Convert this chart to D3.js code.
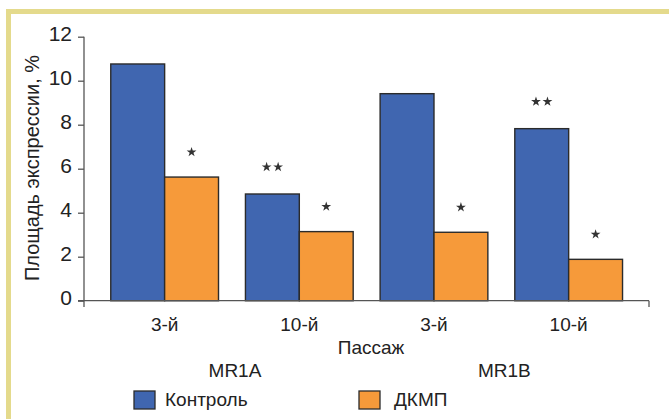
<!DOCTYPE html>
<html><head><meta charset="utf-8">
<script src="https://cdn.jsdelivr.net/npm/d3@7"></script>
<style>
html,body{margin:0;padding:0;background:#fff;}
svg{display:block;font-family:"Liberation Sans",Arial,sans-serif;}
</style></head>
<body>
<svg id="c" width="669" height="419"></svg>
<script>
const categories = ["3-й","10-й","3-й","10-й"];
const receptors = ["MR1A","MR1B"];
const seriesNames = ["Контроль","ДКМП"];
const control = [10.76, 4.85, 9.41, 7.82];
const dkmp = [5.62, 3.14, 3.11, 1.88];
const controlStars = [0, 2, 0, 2];
const dkmpStars = [1, 1, 1, 1];
const yTicks = [0,2,4,6,8,10,12];

const colors = ["#4066b0","#f69a3a"];
const svg = d3.select("#c");

// frame
svg.append("rect").attr("x",6).attr("y",9).attr("width",669).attr("height",5).attr("fill","#e4da8c");
svg.append("rect").attr("x",6).attr("y",9).attr("width",5).attr("height",419).attr("fill","#e4da8c");

const y = d3.scaleLinear().domain([0,12]).range([300.7,36.7]);
const x0 = d3.scaleBand().domain(d3.range(categories.length)).range([97.3,636]).paddingInner(0.2).paddingOuter(0.1);
const x1 = d3.scaleBand().domain([0,1]).range([0,x0.bandwidth()]);

const axisColor = "#555";
// y axis
const ya = svg.append("g").attr("transform","translate(84,0)")
  .call(d3.axisLeft(y).tickValues(yTicks).tickSize(6).tickPadding(6).tickFormat(d3.format("d")));
ya.select(".domain").remove();
ya.selectAll(".tick line").attr("stroke",axisColor).attr("stroke-width",1.3);
ya.selectAll(".tick text").attr("font-size",21).attr("fill","#222").attr("dy","0.2em")
  .attr("font-family","Liberation Sans, Arial, sans-serif");
svg.append("line").attr("x1",84).attr("x2",84).attr("y1",y(12)).attr("y2",307).attr("stroke",axisColor).attr("stroke-width",1.3);

// bars
const groups = svg.append("g").selectAll("g").data(categories).join("g")
  .attr("transform",(d,i)=>`translate(${x0(i)},0)`);
groups.each(function(d,i){
  const vals=[control[i],dkmp[i]];
  const stars=[controlStars[i],dkmpStars[i]];
  const g=d3.select(this);
  vals.forEach((v,k)=>{
    g.append("rect").attr("x",x1(k)).attr("y",y(v)).attr("width",x1.bandwidth()).attr("height",y(0)-y(v))
      .attr("fill",colors[k]).attr("stroke","#2b2b2b").attr("stroke-width",1.4);
    const n=stars[k];
    for(let s=0;s<n;s++){
      const cx=x1(k)+x1.bandwidth()/2+(s-(n-1)/2)*11.5;
      g.append("path").attr("d",d3.symbol(d3.symbolStar,30)())
        .attr("transform",`translate(${cx},${y(v)-(n>1?27:25)})`).attr("fill","#333");
    }
  });
  g.append("text").attr("x",x0.bandwidth()/2).attr("y",331).attr("text-anchor","middle")
    .attr("font-size",19).attr("fill","#222").text(d);
});

// x axis line
svg.append("line").attr("x1",78).attr("x2",649).attr("y1",300.7).attr("y2",300.7).attr("stroke",axisColor).attr("stroke-width",1.3);
svg.append("line").attr("x1",649).attr("x2",649).attr("y1",300.7).attr("y2",307).attr("stroke",axisColor).attr("stroke-width",1.3);

// titles
svg.append("text").attr("x",371).attr("y",354).attr("text-anchor","middle").attr("font-size",19).attr("fill","#222").text("Пассаж");
receptors.forEach((r,j)=>{
  const cx=(x0(2*j)+x0(2*j+1)+x0.bandwidth())/2+3;
  svg.append("text").attr("x",cx).attr("y",377).attr("text-anchor","middle").attr("font-size",19).attr("fill","#222").text(r);
});
svg.append("text").attr("transform","translate(39,168) rotate(-90)").attr("text-anchor","middle")
  .attr("font-size",20).attr("fill","#222").text("Площадь экспрессии, %");

// legend
const legX=[134,359];
seriesNames.forEach((s,k)=>{
  svg.append("rect").attr("x",legX[k]).attr("y",391).attr("width",21).attr("height",18)
    .attr("fill",colors[k]).attr("stroke","#2b2b2b").attr("stroke-width",1.3);
  svg.append("text").attr("x",legX[k]+31+(k?4:0)).attr("y",406).attr("font-size",19).attr("fill","#222").text(s);
});
</script>
</body></html>
